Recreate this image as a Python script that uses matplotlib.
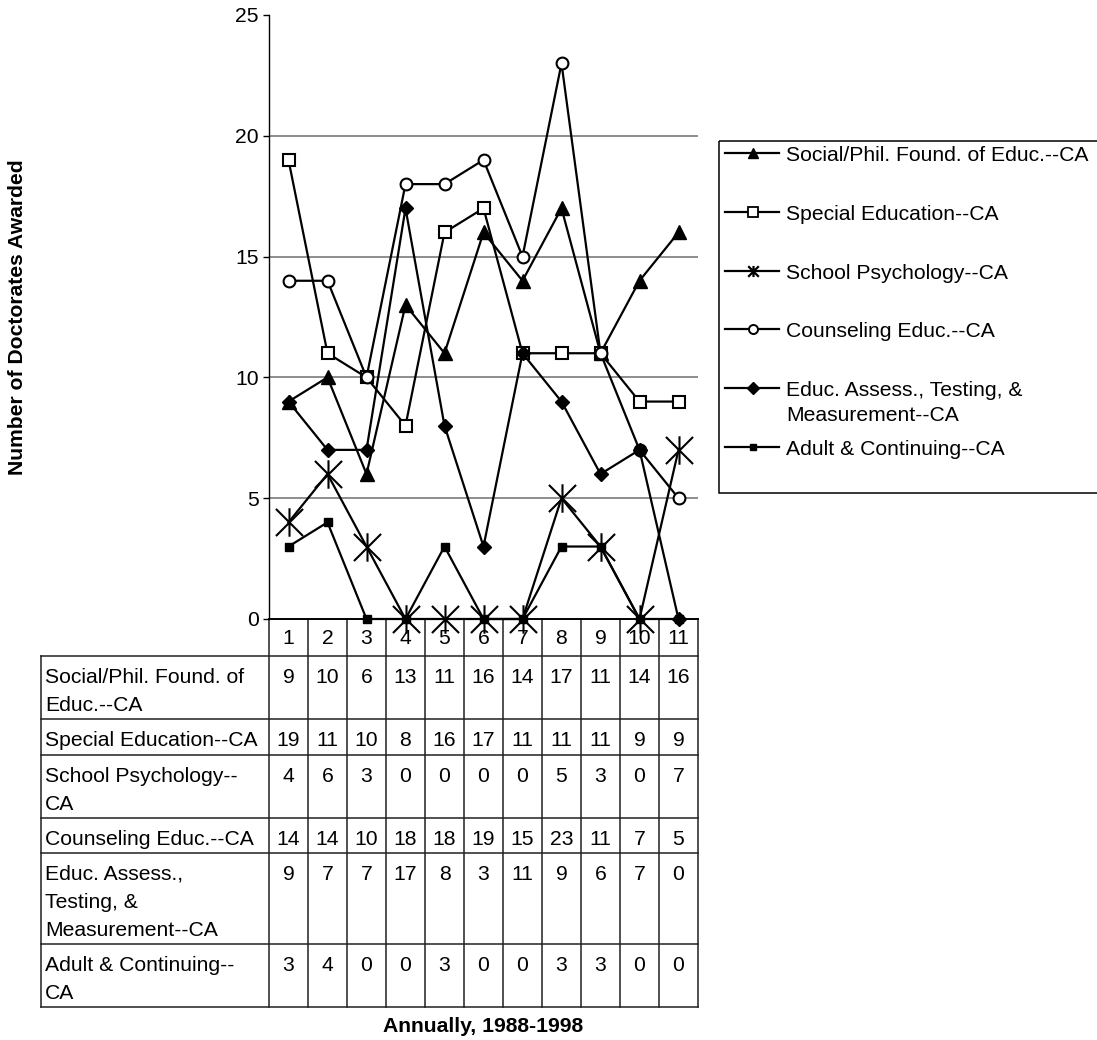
import matplotlib
matplotlib.use("Agg")
import matplotlib.pyplot as plt
from matplotlib.path import Path
from matplotlib.patches import Rectangle
from matplotlib.transforms import blended_transform_factory

# ---- data ----
years = list(range(1, 12))
social = [9, 10, 6, 13, 11, 16, 14, 17, 11, 14, 16]
special = [19, 11, 10, 8, 16, 17, 11, 11, 11, 9, 9]
school = [4, 6, 3, 0, 0, 0, 0, 5, 3, 0, 7]
counseling = [14, 14, 10, 18, 18, 19, 15, 23, 11, 7, 5]
assess = [9, 7, 7, 17, 8, 3, 11, 9, 6, 7, 0]
adult = [3, 4, 0, 0, 3, 0, 0, 3, 3, 0, 0]
y_ticks = [0, 5, 10, 15, 20, 25]

legend_labels = [
    "Social/Phil. Found. of Educ.--CA",
    "Special Education--CA",
    "School Psychology--CA",
    "Counseling Educ.--CA",
    "Educ. Assess., Testing, &\nMeasurement--CA",
    "Adult & Continuing--CA",
]
table_labels = [
    "Social/Phil. Found. of\nEduc.--CA",
    "Special Education--CA",
    "School Psychology--\nCA",
    "Counseling Educ.--CA",
    "Educ. Assess.,\nTesting, &\nMeasurement--CA",
    "Adult & Continuing--\nCA",
]
x_title = "Annually, 1988-1998"
y_title = "Number of Doctorates Awarded"

plt.rcParams["font.family"] = ["Liberation Sans", "DejaVu Sans"]
FS = 15.2

W, H = 1097, 1040
fig = plt.figure(figsize=(W / 100, H / 100), dpi=100)

# overlay in pixel coordinates for table, legend and titles
ov = fig.add_axes([0, 0, 1, 1], zorder=1)
ov.set_xlim(0, W)
ov.set_ylim(H, 0)
ov.axis("off")

# main plotting area
PL, PR, PT, PB = 269, 698, 15, 619
ax = fig.add_axes([PL / W, 1 - PB / H, (PR - PL) / W, (PB - PT) / H], zorder=2)
ax.patch.set_alpha(0)
ax.set_xlim(0.5, 11.5)
ax.set_ylim(0, 25)
ax.set_yticks(y_ticks)
ax.set_xticks([])
for s in ("top", "right"):
    ax.spines[s].set_visible(False)
ax.spines["left"].set_linewidth(1.0)
ax.spines["bottom"].set_linewidth(1.4)
ax.tick_params(axis="y", direction="out", length=4.5, width=1.0, pad=3,
               labelsize=FS)
for yv in y_ticks[1:-1]:
    ax.axhline(yv, color="#7a7a7a", lw=1.2, zorder=0)

star = Path([(-1, -1), (1, 1), (-1, 1), (1, -1), (0, -1.05), (0, 1.05)],
            [Path.MOVETO, Path.LINETO] * 3)

styles = [
    dict(marker="^", ms=10, mfc="black", mec="black"),
    dict(marker="s", ms=9, mfc="white", mec="black", mew=1.5),
    dict(marker=star, ms=20.5, mfc="none", mec="black", mew=1.5),
    dict(marker="o", ms=8.5, mfc="white", mec="black", mew=1.5),
    dict(marker="D", ms=7.2, mfc="black", mec="black"),
    dict(marker="s", ms=6.2, mfc="black", mec="black"),
]
legend_styles = [
    dict(marker="^", ms=7.5, mfc="black", mec="black"),
    dict(marker="s", ms=6.5, mfc="white", mec="black", mew=1.3),
    dict(marker=star, ms=8, mfc="none", mec="black", mew=1.6),
    dict(marker="o", ms=6.5, mfc="white", mec="black", mew=1.4),
    dict(marker="D", ms=6, mfc="black", mec="black"),
    dict(marker="s", ms=5, mfc="black", mec="black"),
]
all_series = [social, special, school, counseling, assess, adult]

for vals, st in zip(all_series, styles):
    ax.plot(years, vals, color="black", lw=1.6, clip_on=False, **st)

# ---- data table below the axis ----
bt = blended_transform_factory(ax.transData, ov.transData)
row_edges = [619, 656, 719, 755, 818, 853, 944, 1007]
TL = 41
line_kw = dict(color="#202020", lw=1.1)
# horizontal rules
for ye in row_edges[1:]:
    ov.plot([TL, PR], [ye, ye], **line_kw)
# vertical rules between columns
for k in range(12):
    ov.plot([0.5 + k, 0.5 + k], [row_edges[0], row_edges[-1]],
            transform=bt, **line_kw)
ov.plot([TL, TL], [row_edges[1], row_edges[-1]], **line_kw)

# header numbers
for yr in years:
    ov.text(yr, row_edges[0] + 25, str(yr), transform=bt, ha="center",
            va="baseline", fontsize=FS)

LSP = 28
for r, (lab, vals) in enumerate(zip(table_labels, all_series)):
    top = row_edges[r + 1]
    for i, line in enumerate(lab.split("\n")):
        ov.text(TL + 4, top + 27 + i * LSP, line, ha="left", va="baseline",
                fontsize=FS)
    for yr, v in zip(years, vals):
        ov.text(yr, top + 27, str(v), transform=bt, ha="center",
                va="baseline", fontsize=FS)

# ---- legend ----
ov.add_patch(Rectangle((719, 141), 400, 352, fill=False, ec="black", lw=1.1,
                       clip_on=False))
for i, (lab, st) in enumerate(zip(legend_labels, legend_styles)):
    yc = 153 + 58.8 * i
    ov.plot([725, 779], [yc, yc], color="black", lw=1.6)
    ov.plot([753], [yc], color="black", **st)
    for j, line in enumerate(lab.split("\n")):
        ov.text(786, yc + 8 + j * 25, line, ha="left", va="baseline",
                fontsize=FS)

# ---- titles ----
ov.text(18, 317, y_title, rotation=90, ha="center", va="center",
        fontsize=FS, fontweight="bold")
ov.text((PL + PR) / 2, 1027, x_title, ha="center", va="center",
        fontsize=FS, fontweight="bold")

fig.savefig("out.png", dpi=100)
